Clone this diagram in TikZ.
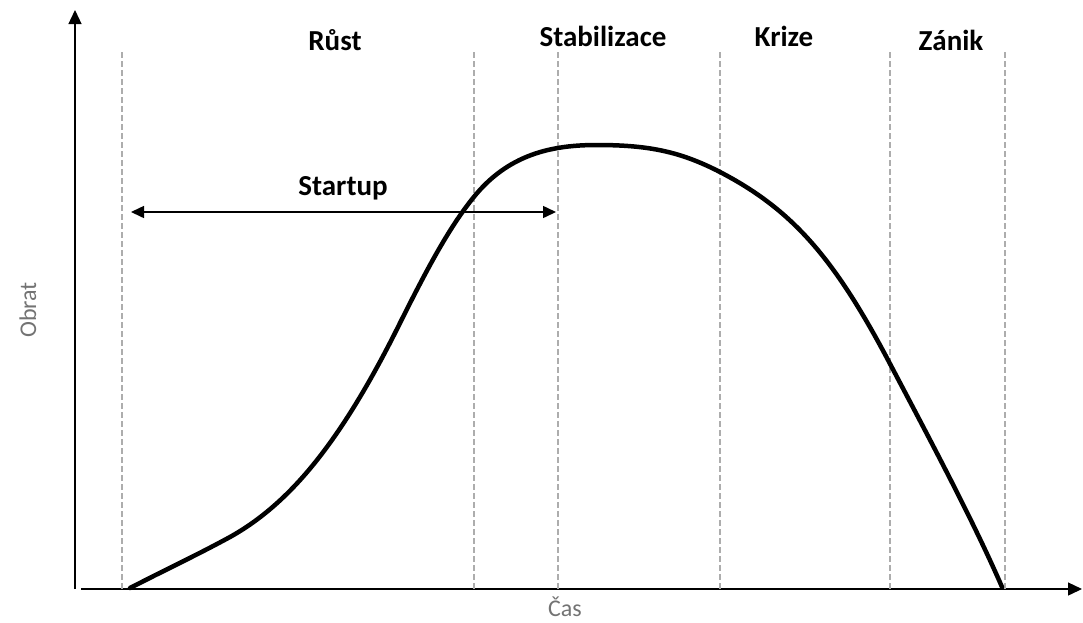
\documentclass[tikz,border=0pt]{standalone}
\usepackage{fontspec}
\setmainfont{Carlito}
\usetikzlibrary{arrows.meta}

\begin{document}
\begin{tikzpicture}[x=1pt, y=-1pt,
  phase/.style = {font=\fontsize{29}{34}\selectfont\bfseries},
  axislabel/.style = {text=black!55, font=\fontsize{24}{28}\selectfont},
  divider/.style = {draw=black!32, line width=1.2pt, dash pattern=on 6pt off 3pt},
  axis/.style = {draw, line width=1.3pt, -{Triangle[length=14pt, width=13pt]}}]
  \useasboundingbox (0,0) rectangle (1083,622);
  % axes
  \coordinate (origin) at (75,589);
  \coordinate (ytop) at (75,10);
  \coordinate (xstart) at (81,589);
  \coordinate (xend) at (1082,589);
  \path [axis] (origin) -- (ytop);
  \path [axis] (xstart) -- (xend);
  \node [axislabel] (cas) at (565,607) {Čas};
  \node [axislabel, rotate=90] (obrat) at (28,310) {Obrat};
  % phase dividers
  \foreach \x in {122,474,558,720,890,1005}
    \path [divider] (\x,52) -- (\x,589);
  \node [phase] (rust) at (335,40) {Růst};
  \node [phase] (stab) at (603,36) {Stabilizace};
  \node [phase] (krize) at (784,36) {Krize};
  \node [phase] (zanik) at (951,40) {Zánik};
  % startup span
  \node [phase] (startup) at (343,188) {Startup};
  \coordinate (sleft) at (131,212);
  \coordinate (sright) at (556,212);
  \path [draw, line width=1.5pt, {Triangle[length=13pt, width=12pt]}-{Triangle[length=13pt, width=12pt]}] (sleft) -- (sright);
  % turnover curve
  \coordinate (c0) at (130,588);
  \coordinate (c1) at (230,537);
  \coordinate (c2) at (400,323);
  \coordinate (c3) at (473,198);
  \coordinate (peak) at (597,145);
  \coordinate (c5) at (720,172);
  \coordinate (c6) at (888,360);
  \coordinate (cend) at (1002,587);
  \draw [line width=4.5pt, line cap=round]
    (c0) .. controls (163,571) and (197,555) .. (c1)
         .. controls (291,503) and (342,440) .. (c2)
         .. controls (425,273) and (448,229) .. (c3)
         .. controls (508,154) and (552,145) .. (peak)
         .. controls (650,145) and (681,152) .. (c5)
         .. controls (791,209) and (833,256) .. (c6)
         .. controls (928,436) and (972,518) .. (cend);
\end{tikzpicture}
\end{document}
